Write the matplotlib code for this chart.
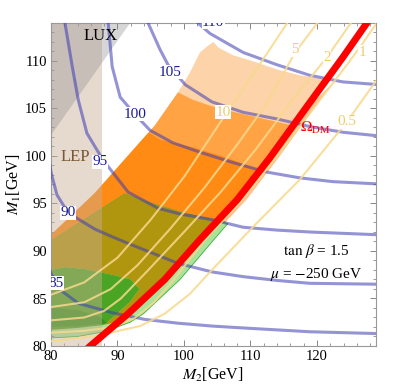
import matplotlib
matplotlib.use('Agg')
import matplotlib.pyplot as plt
from matplotlib.patches import Polygon, Rectangle
import numpy as np

plt.rcParams['font.family'] = ['Liberation Serif', 'DejaVu Serif']
plt.rcParams['mathtext.fontset'] = 'stix'

# ---------------- data (M2, M1 in GeV) ----------------
# neutralino-mass contours (blue)
c110_m2 = [101.2, 102.1, 103.9, 108.9, 114.0, 118.9, 123.9, 129.5]
c110_m1 = [115.0, 114.0, 112.9, 110.9, 109.6, 108.5, 107.8, 107.5]
c105_m2 = [94.0, 94.6, 96.4, 97.6, 100.2, 104.2, 108.9, 114.0, 118.9, 123.9, 129.5]
c105_m1 = [115.0, 114.0, 111.2, 109.6, 107.5, 105.7, 104.6, 103.9, 103.1, 102.5, 102.1]
c100_m2 = [88.5, 88.6, 89.2, 90.4, 92.6, 94.9, 98.3, 102.4, 107.4, 112.5, 117.4, 122.4, 129.5]
c100_m1 = [115.0, 114.0, 109.4, 106.2, 104.4, 102.7, 101.4, 100.4, 99.3, 98.3, 97.7, 97.3, 97.05]
c95_m2 = [82.0, 82.1, 83.2, 84.1, 85.4, 87.8, 91.6, 96.1, 99.4, 104.2, 108.9, 114.0, 118.9, 129.5]
c95_m1 = [115.0, 114.0, 109.4, 105.9, 102.4, 99.6, 96.2, 94.5, 93.9, 93.3, 92.5, 92.2, 92.0, 91.7]
c90_m2 = [79.5, 80.0, 80.9, 82.6, 86.6, 89.2, 91.6, 94.1, 99.1, 104.2, 108.9, 114.0, 118.9, 129.5]
c90_m1 = [100.5, 98.3, 95.9, 94.0, 92.3, 91.5, 90.8, 90.1, 88.7, 87.8, 87.3, 86.9, 86.6, 86.5]
c85_m2 = [79.5, 80.0, 81.4, 84.1, 89.2, 94.1, 99.1, 104.2, 108.9, 118.9, 129.5]
c85_m1 = [88.8, 87.6, 85.9, 84.5, 83.5, 82.8, 82.4, 82.1, 81.9, 81.5, 81.3]
blue_m2 = [c110_m2, c105_m2, c100_m2, c95_m2, c90_m2, c85_m2]
blue_m1 = [c110_m1, c105_m1, c100_m1, c95_m1, c90_m1, c85_m1]
blue_labels = ['110', '105', '100', '95', '90', '85']
blue_lab_m2 = [104.4, 97.9, 92.6, 87.4, 82.6, 80.75]
blue_lab_m1 = [114.1, 108.8, 104.4, 99.4, 94.0, 86.6]

# yellow contours
y05_m2 = [79.5, 80.0, 87.0, 93.4, 97.1, 100.9, 104.2, 110.6, 117.4, 124.5, 129.5]
y05_m1 = [80.45, 80.5, 81.1, 82.1, 83.4, 85.5, 88.0, 92.7, 97.5, 103.6, 108.5]
y1_m2 = [79.5, 80.0, 85.0, 89.0, 92.5, 95.5, 98.5, 103.2, 108.8, 113.8, 119.8, 124.5, 126.5, 129.5]
y1_m1 = [81.35, 81.4, 81.6, 81.95, 82.9, 84.6, 87.0, 91.2, 95.4, 99.8, 105.3, 109.6, 111.5, 114.5]
y2_m2 = [79.5, 80.0, 85.0, 88.0, 90.5, 94.5, 100.0, 105.5, 110.8, 116.2, 121.5, 125.6]
y2_m1 = [82.65, 82.7, 83.0, 83.7, 85.0, 87.9, 92.0, 96.2, 100.7, 105.8, 110.4, 114.5]
y5_m2 = [79.5, 80.0, 85.0, 89.0, 93.0, 98.0, 103.0, 108.0, 112.5, 116.7, 120.6]
y5_m1 = [84.0, 84.1, 84.6, 86.0, 88.5, 92.4, 96.6, 101.2, 105.6, 110.9, 114.5]
y10_m2 = [79.5, 80.0, 85.0, 90.0, 95.0, 100.0, 105.9, 110.5, 116.0]
y10_m1 = [85.3, 85.4, 86.7, 89.3, 93.3, 97.8, 104.0, 108.7, 114.5]
yel_m2 = [y05_m2, y1_m2, y2_m2, y5_m2, y10_m2]
yel_m1 = [y05_m1, y1_m1, y2_m1, y5_m1, y10_m1]
yel_labels = ['0.5', '1', '2', '5', '10']
yel_lab_m2 = [124.5, 126.8, 121.5, 116.7, 105.9]
yel_lab_m1 = [103.6, 110.9, 110.4, 111.2, 104.6]

# relic density line
om_m2 = [85.3, 85.9, 91.6, 97.1, 102.4, 108.0, 112.9, 118.9, 123.9, 127.5, 128.2]
om_m1 = [79.6, 80.0, 83.4, 87.0, 91.2, 95.4, 99.8, 105.6, 110.4, 114.0, 114.8]

# orange (allowed) region boundaries
orange_left_m2 = [80.0, 86.6, 95.6, 99.1, 100.9, 102.4, 103.6]
orange_left_m1 = [91.7, 96.1, 103.2, 106.7, 108.8, 110.9, 111.6]
orange_top_m2 = [104.4, 105.2, 107.4, 110.7, 114.0, 117.4, 120.8, 121.7]
orange_top_m1 = [112.0, 111.4, 110.6, 109.9, 109.1, 108.5, 108.1, 108.0]
orange_right_m2 = [119.4, 113.4, 108.5, 102.9, 97.6, 92.1, 90.8, 89.8]
orange_right_m1 = [105.6, 99.8, 95.4, 91.2, 87.0, 83.4, 82.6, 82.6]
fuzz_m2 = [122.8, 120.2, 114.2, 109.4, 103.8, 98.5, 93.0]
fuzz_m1 = [108.0, 105.6, 99.8, 95.4, 91.2, 87.0, 83.4]
orange_arc_m2 = [80.0, 82.1, 85.1, 89.2, 92.0, 93.3, 91.8, 89.9, 88.6, 87.8]
orange_arc_m1 = [88.0, 88.3, 88.1, 87.5, 87.0, 86.0, 84.6, 83.4, 82.6, 82.2]
med_top_m2 = [70.0, 99.1, 101.4, 103.9, 106.5, 111.4, 116.4, 135.0]
med_top_m1 = [110.0, 106.7, 105.9, 105.3, 104.8, 104.0, 103.2, 101.0]
dark_top_m2 = [70.0, 94.9, 96.4, 101.4, 106.5, 111.5, 135.0]
dark_top_m1 = [106.0, 102.4, 101.7, 100.9, 99.8, 98.5, 95.0]

# green region boundaries
green_top_m2 = [80.0, 91.1, 94.9, 99.4, 104.2, 105.3]
green_top_m1 = [91.05, 96.0, 95.05, 94.1, 93.3, 93.1]
green_right_m2 = [106.6, 104.5, 99.4, 93.9, 91.9]
green_right_m1 = [92.9, 91.2, 87.0, 83.4, 82.5]
green_outer_bot_m2 = [88.0, 84.0, 80.0]
green_outer_bot_m1 = [81.5, 81.0, 80.85]
green_main_bot_m2 = [89.8, 87.8, 84.0, 80.0]
green_main_bot_m1 = [82.6, 82.2, 81.9, 81.7]
red_in_green_m2 = [102.4, 97.1, 91.6, 90.3]
red_in_green_m1 = [91.2, 87.0, 83.4, 82.6]
dgreen_m2 = [80.0, 84.0, 87.5, 88.5, 84.0, 80.0]
dgreen_m1 = [84.0, 83.8, 83.0, 82.4, 82.1, 82.0]

# excluded regions
lep_m2_max = 87.67
lux_m2 = [80.0, 91.9, 80.0]
lux_m1 = [102.2, 114.0, 114.0]

# ---------------- figure ----------------
fig = plt.figure(figsize=(3.99, 3.90), dpi=100)
ax = fig.add_axes([51/399, 44/390, 324.5/399, 323/390])
ax.set_xlim(80, 128.8)
ax.set_ylim(80, 114)

def pts(xs, ys):
    return list(zip(xs, ys))

# light orange fringe right of the relic line
ax.add_patch(Polygon(pts(orange_right_m2[:6], orange_right_m1[:6]) + pts(fuzz_m2[::-1], fuzz_m1[::-1]),
                     closed=True, fc='#FFC08C', ec='none', zorder=0.9))
# full orange region (peach)
orange_poly = (pts(orange_left_m2, orange_left_m1) + pts(orange_top_m2, orange_top_m1)
               + pts(orange_right_m2, orange_right_m1)
               + pts(orange_arc_m2[::-1], orange_arc_m1[::-1]))
peach = Polygon(orange_poly, closed=True, fc='#FDD3A9', ec='none', zorder=1)
ax.add_patch(peach)
med = Polygon(pts(med_top_m2, med_top_m1) + [(135, 60), (70, 60)], closed=True,
              fc='#FFA345', ec='none', zorder=1.1)
ax.add_patch(med)
med.set_clip_path(peach)
dark = Polygon(pts(dark_top_m2, dark_top_m1) + [(135, 60), (70, 60)], closed=True,
               fc='#FF8A14', ec='none', zorder=1.2)
ax.add_patch(dark)
dark.set_clip_path(peach)

# green regions
outer = (pts(green_top_m2, green_top_m1) + pts(green_right_m2, green_right_m1)
         + pts(green_outer_bot_m2, green_outer_bot_m1))
ax.add_patch(Polygon(outer, closed=True, fc='#A9E39B', ec='#3CB030', lw=0.6, zorder=1.5))
olive = (pts(green_top_m2, green_top_m1) + pts(red_in_green_m2, red_in_green_m1)
         + pts(orange_arc_m2[::-1], orange_arc_m1[::-1]))
ax.add_patch(Polygon(olive, closed=True, fc='#B0950E', ec='none', zorder=1.6))
bright = pts(orange_arc_m2, orange_arc_m1) + pts(green_main_bot_m2[2:], green_main_bot_m1[2:])
ax.add_patch(Polygon(bright, closed=True, fc='#4BA524', ec='none', zorder=1.6))
ax.add_patch(Polygon(pts(dgreen_m2, dgreen_m1), closed=True, fc='#35961C', ec='none', zorder=1.7))

# LEP and LUX exclusions
ax.add_patch(Rectangle((70, 70), lep_m2_max - 70, 60, fc='#C8AF96', alpha=0.45,
                       ec='none', zorder=2))
ax.add_patch(Polygon(pts(lux_m2, lux_m1), closed=True, fc='#8C8C8C', alpha=0.35,
                     ec='none', zorder=2.1))

# blue contours
for xs, ys in zip(blue_m2, blue_m1):
    ax.plot(xs, ys, color='#3C3CB4', alpha=0.55, lw=2.2, zorder=3,
            solid_capstyle='butt')
# yellow contours
for xs, ys in zip(yel_m2, yel_m1):
    ax.plot(xs, ys, color='#F7D98C', alpha=0.85, lw=1.5, zorder=3.2)
# relic line
ax.plot(om_m2, om_m1, color='#FF0000', lw=5, zorder=4, solid_capstyle='butt')

# labels
for t, x, y in zip(blue_labels, blue_lab_m2, blue_lab_m1):
    ax.text(x, y, t, color='#1A1A99', fontsize=11, ha='center', va='center',
            zorder=5, clip_on=True,
            bbox=dict(fc='white', ec='none', pad=0.3))
for t, x, y in zip(yel_labels, yel_lab_m2, yel_lab_m1):
    ax.text(x, y, t, color='#EFCB6E', fontsize=11, ha='center', va='center',
            zorder=5, clip_on=True,
            bbox=dict(fc='white', ec='none', pad=0.3))

ax.text(119.8, 102.9, r'$\Omega_{\rm DM}$', color='#FF0000', fontsize=11,
        ha='center', va='center', zorder=5)
ax.text(87.4, 112.6, 'LUX', color='black', fontsize=12, ha='center', va='center', zorder=5)
ax.text(83.6, 99.9, 'LEP', color='#7A5634', fontsize=12, ha='center', va='center', zorder=5)
ax.text(119.85, 90.0, r'$\tan\,\beta$ = 1.5', fontsize=11, ha='center', va='center', zorder=5)
ax.text(119.85, 87.5, r'$\mu$ = $-$250 GeV', fontsize=11, ha='center', va='center', zorder=5)

# axes styling
ax.set_xticks([80, 90, 100, 110, 120])
ax.set_xticks(np.arange(80, 129, 2), minor=True)
ax.set_yticks([80, 85, 90, 95, 100, 105, 110])
ax.set_yticks(np.arange(80, 115, 1), minor=True)
ax.tick_params(which='both', direction='in', top=True, right=True,
               color='#888888', labelsize=10.5, pad=3)
ax.tick_params(which='major', length=4, width=0.7)
ax.tick_params(which='minor', length=2.3, width=0.6)
for s in ax.spines.values():
    s.set_color('#999999')
    s.set_linewidth(0.8)
ax.set_xlabel(r'$M_2$[GeV]', fontsize=11.5, labelpad=2)
ax.set_ylabel(r'$M_1$[GeV]', fontsize=11.5, labelpad=1)

fig.savefig('out.png', dpi=100)
